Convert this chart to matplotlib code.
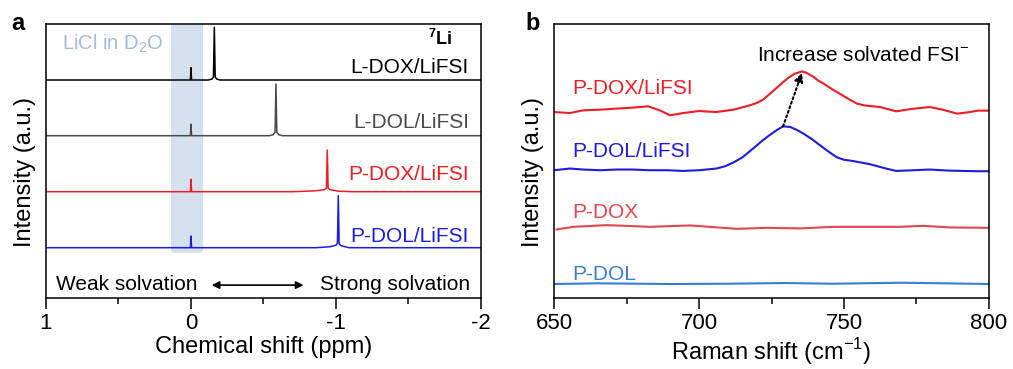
import matplotlib
matplotlib.use("Agg")
import matplotlib.pyplot as plt
from matplotlib.patches import FancyBboxPatch
from matplotlib.ticker import MultipleLocator
import numpy as np

plt.rcParams["font.family"] = ["Liberation Sans", "DejaVu Sans"]
plt.rcParams["mathtext.fontset"] = "custom"
plt.rcParams["mathtext.rm"] = "Liberation Sans"
plt.rcParams["mathtext.bf"] = "Liberation Sans:bold"
plt.rcParams["axes.unicode_minus"] = False

# 7Li NMR spectra (ppm, intensity above baseline)
ppm_ldox = [1.0, 0.004, 0.0, -0.004, -0.12, -0.145, -0.155, -0.161, -0.167, -0.177, -0.20, -2.0]
int_ldox = [0, 0, 12.3, 0, 0, 1.0, 3.0, 52.7, 3.0, 1.0, 0, 0]
ppm_ldol = [1.0, 0.004, 0.0, -0.004, -0.54, -0.567, -0.58, -0.586, -0.592, -0.605, -0.63, -2.0]
int_ldol = [0, 0, 11.4, 0, 0, 1.0, 3.5, 51.7, 3.5, 1.0, 0, 0]
ppm_pdox = [1.0, 0.004, 0.0, -0.004, -0.70, -0.85, -0.92, -0.934, -0.94, -0.946, -0.96, -1.02, -1.12, -2.0]
int_pdox = [0, 0, 12.4, 0, 0, 0.8, 2.0, 3.5, 41.7, 3.5, 2.0, 0.5, 0, 0]
ppm_pdol = [1.0, 0.004, 0.0, -0.004, -0.86, -0.96, -1.0, -1.01, -1.016, -1.022, -1.035, -1.09, -2.0]
int_pdol = [0, 0, 11.7, 0, 0, 1.0, 2.5, 4.5, 52.0, 4.0, 2.0, 0, 0]

nmr_names = ["L-DOX/LiFSI", "L-DOL/LiFSI", "P-DOX/LiFSI", "P-DOL/LiFSI"]
nmr_offsets = [218, 162.3, 106.3, 50.3]
nmr_colors = ["#000000", "#4a4a4a", "#ee1d23", "#1c1cdc"]

# Raman spectra
raman_x_dox_li = [650, 655.5, 660, 666, 671.5, 677, 682.5, 686.5, 690, 694.5, 700, 706, 712, 717.5, 720,
                  722, 724.5, 726.8, 729, 731, 733, 735.5, 737, 739.5, 741, 743, 746, 748.5, 751.5,
                  754.5, 757, 759, 762.5, 768, 773, 779.5, 784, 789, 793.5, 796, 800]
raman_y_dox_li = [0.3, -0.7, 2, 2.7, 3.7, 4.7, 6, 2, -3, -0.7, 1.3, 0.3, 2.7, 7, 9.5,
                  12.5, 18.7, 24.5, 30.3, 35, 38.7, 41, 39.7, 35.5, 32, 28.7, 23, 18.7, 13.5,
                  8.7, 7, 6.3, 5.3, 1, 3.3, 5.3, 2.7, -1.3, 0.3, 1.7, 1.7]
raman_x_dol_li = [650, 655.5, 660, 666, 671.5, 677, 683, 689, 694.5, 700, 706, 709, 712, 715, 717.5, 720,
                  722, 724.5, 727, 729, 731.5, 734, 736, 739, 741.5, 744.5, 747.5, 750, 753, 759, 764.5,
                  768, 774, 779.5, 785.5, 791, 796, 800]
raman_y_dol_li = [0, 1.7, 0.7, 0, 0.7, 0.7, 0, 0, -0.7, 0, 1.7, 4, 8, 13, 19, 25,
                  30, 35.5, 40.5, 44, 43.3, 40, 36.7, 31, 25.5, 19, 13, 10.5, 9.3, 6, 1.7,
                  -0.7, 0, 0.7, -0.3, -0.7, -1, -1]
raman_x_dox = [650.9, 656.7, 668.2, 683.1, 696.9, 700.3, 713, 723.3, 734.8, 746.3, 757.8, 769.3,
               777.4, 786.6, 800]
raman_y_dox = [-2.3, 0.3, 2, 0.3, 1.7, 1, -1.7, -0.7, -1.3, 0.3, 0.3, 0.3, 1.3, -0.3, -0.7]
raman_x_dol = [650, 665, 690, 710, 730, 746, 770, 785, 800]
raman_y_dol = [0, 0.7, 0, 0.3, 1, 0.3, 1.3, 0.7, 0]

raman_names = ["P-DOX/LiFSI", "P-DOL/LiFSI", "P-DOX", "P-DOL"]
raman_offsets = [186, 128, 71, 14]
raman_colors = ["#ee1d23", "#1c1cdc", "#e2474b", "#3a7dd6"]

fig = plt.figure(figsize=(10.13, 3.69), dpi=100)
ax1 = fig.add_axes([0.0454, 0.1924, 0.4294, 0.7439])
ax2 = fig.add_axes([0.5469, 0.1924, 0.4294, 0.7439])

# ---- a: 7Li NMR ----
band = FancyBboxPatch((-0.083, 45), 0.221, 300, boxstyle="round,pad=0,rounding_size=0.028",
                      mutation_aspect=143, fc="#d6e1f0", ec="none", zorder=0)
ax1.add_patch(band)

nmr_ppm = [ppm_ldox, ppm_ldol, ppm_pdox, ppm_pdol]
nmr_int = [int_ldox, int_ldol, int_pdox, int_pdol]
label_base = [0.819, 0.618, 0.43, 0.205]
for ppm, inten, off, col, name, yb in zip(nmr_ppm, nmr_int, nmr_offsets, nmr_colors, nmr_names, label_base):
    ax1.plot(ppm, np.array(inten) + off, color=col, lw=1.1, zorder=2)
    ax1.text(0.972, yb, name, transform=ax1.transAxes, ha="right", va="baseline", color=col, fontsize=15)

ax1.text(0.036, 0.903, r"LiCl in D$_2$O", transform=ax1.transAxes, ha="left", va="baseline",
         color="#a3b9d9", fontsize=14.5)
ax1.text(0.906, 0.920, r"$\mathbf{^7Li}$", transform=ax1.transAxes, ha="center", va="baseline", fontsize=13)
ax1.text(0.023, 0.029, "Weak solvation", transform=ax1.transAxes, ha="left", va="baseline", fontsize=15)
ax1.text(0.975, 0.029, "Strong solvation", transform=ax1.transAxes, ha="right", va="baseline", fontsize=15)
ax1.annotate("", xy=(0.592, 0.047), xytext=(0.381, 0.047), xycoords="axes fraction",
             arrowprops=dict(arrowstyle="<|-|>", color="k", lw=1.2, mutation_scale=11,
                             shrinkA=0, shrinkB=0))

ax1.set_xlim(1, -2)
ax1.set_ylim(0, 274.5)
ax1.xaxis.set_major_locator(MultipleLocator(1))
ax1.xaxis.set_minor_locator(MultipleLocator(0.5))
ax1.set_xlabel("Chemical shift (ppm)", fontsize=17, labelpad=1)

# ---- b: Raman ----
raman_x = [raman_x_dox_li, raman_x_dol_li, raman_x_dox, raman_x_dol]
raman_y = [raman_y_dox_li, raman_y_dol_li, raman_y_dox, raman_y_dol]
label_b = [0.742, 0.514, 0.29, 0.065]
for xs, ys, off, col, name, yb in zip(raman_x, raman_y, raman_offsets, raman_colors, raman_names, label_b):
    ax2.plot(xs, np.array(ys) + off, color=col, lw=1.5, solid_joinstyle="round")
    ax2.text(0.043, yb, name, transform=ax2.transAxes, ha="left", va="baseline", color=col, fontsize=15)

# dotted arrow from the P-DOL/LiFSI peak to the P-DOX/LiFSI peak
i_blue = int(np.argmax(raman_y_dol_li))
i_red = int(np.argmax(raman_y_dox_li))
p_blue = (raman_x_dol_li[i_blue], raman_y_dol_li[i_blue] + raman_offsets[1])
p_red = (raman_x_dox_li[i_red], raman_y_dox_li[i_red] + raman_offsets[0] - 1.5)
ax2.annotate("", xy=p_red, xytext=p_blue,
             arrowprops=dict(arrowstyle="-|>", color="k", lw=1.5, linestyle=(0, (1, 1.3)),
                             mutation_scale=13, shrinkA=0, shrinkB=0))
ax2.text(0.467, 0.865, r"Increase solvated FSI$^{-}$", transform=ax2.transAxes, ha="left",
         va="baseline", fontsize=15)

ax2.set_xlim(650, 800)
ax2.set_ylim(0, 275)
ax2.xaxis.set_major_locator(MultipleLocator(50))
ax2.xaxis.set_minor_locator(MultipleLocator(25))
ax2.set_xlabel(r"Raman shift (cm$^{-1}$)", fontsize=17, labelpad=1)

for ax in (ax1, ax2):
    ax.set_yticks([])
    ax.set_ylabel("Intensity (a.u.)", fontsize=17)
    ax.yaxis.set_label_coords(-0.023, 0.46)
    ax.tick_params(axis="x", which="major", direction="out", length=8, width=1.1, labelsize=16, pad=3)
    ax.tick_params(axis="x", which="minor", direction="out", length=4.3, width=1.1)
    for s in ax.spines.values():
        s.set_linewidth(1.1)

fig.text(0.0109, 0.9187, "a", fontsize=17, fontweight="bold", va="baseline")
fig.text(0.519, 0.9187, "b", fontsize=17, fontweight="bold", va="baseline")

fig.savefig("out.png", dpi=100)
